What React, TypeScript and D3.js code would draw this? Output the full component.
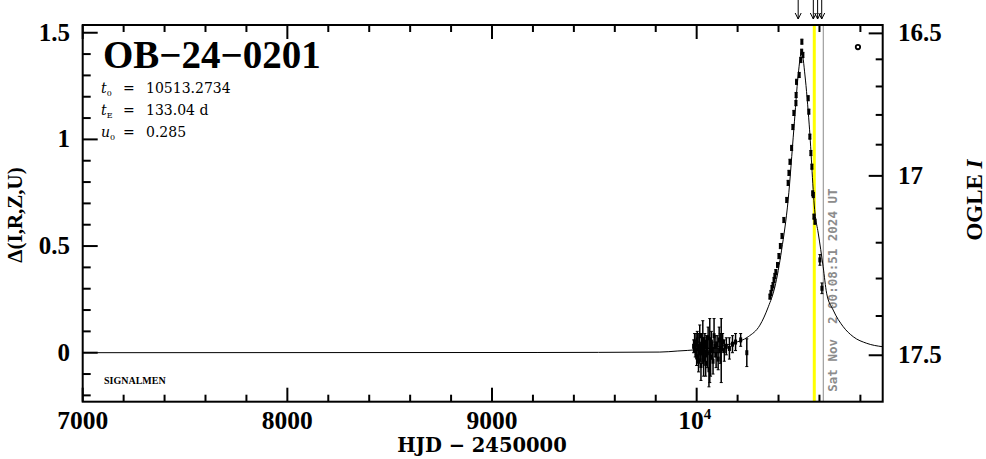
import React from 'react';
import * as d3 from 'd3';

const W = 986;
const H = 459;

// axis calibration (data units)
const xDomain = [7000, 10909];
const yDomain = [-0.2297, 1.5363];

const xMajorTicks = [7000, 8000, 9000, 10000];
const xTickLabels = ['7000', '8000', '9000', '10^4'];
const yMajorTicks = [0, 0.5, 1, 1.5];
const yTickLabels = ['0', '0.5', '1', '1.5'];
const magMajorTicks = [16.5, 17, 17.5];
const magTickLabels = ['16.5', '17', '17.5'];
const magMinorTicks = [16.6, 16.7, 16.8, 16.9, 17.1, 17.2, 17.3, 17.4];

// model curve
const modelT = [7000, 9220, 9820, 9908, 10000, 10100, 10180, 10252, 10309, 10350, 10382, 10415, 10447, 10475, 10496, 10513, 10529, 10550, 10578, 10594, 10618, 10635, 10667, 10716, 10765, 10831, 10909];
const modelD = [0, 0.001, 0.003, 0.008, 0.014, 0.027, 0.045, 0.075, 0.129, 0.215, 0.308, 0.481, 0.716, 1.05, 1.302, 1.411, 1.302, 1.068, 0.655, 0.561, 0.403, 0.279, 0.2, 0.122, 0.075, 0.044, 0.028];

// baseline season points
const baseT = [9985, 9990, 9993, 9997, 10000, 10003, 10006, 10009, 10012, 10015, 10018, 10021, 10024, 10027, 10030, 10034, 10037, 10040, 10044, 10048, 10052, 10056, 10060, 10064, 10068, 10072, 10076, 10080, 10085, 10090, 10095, 10100, 10105, 10110, 10115, 10120, 10127, 10135, 10145, 10160, 10175, 10190, 10215, 10245];
const baseD = [0.03, 0.05, 0.01, 0.04, -0.02, 0.06, 0.02, -0.04, 0.03, 0.08, 0.0, -0.06, 0.04, 0.01, 0.06, -0.03, 0.02, 0.05, -0.05, 0.03, 0.0, 0.07, -0.08, 0.01, -0.02, 0.05, 0.01, -0.04, 0.08, 0.03, -0.01, 0.04, -0.03, 0.06, 0.02, 0.01, 0.05, 0.01, 0.03, 0.02, 0.04, 0.05, 0.06, 0.0];
const baseE = [0.03, 0.04, 0.03, 0.05, 0.04, 0.04, 0.03, 0.05, 0.06, 0.05, 0.04, 0.07, 0.05, 0.06, 0.09, 0.08, 0.05, 0.04, 0.06, 0.05, 0.07, 0.05, 0.08, 0.15, 0.09, 0.05, 0.04, 0.06, 0.08, 0.05, 0.06, 0.04, 0.05, 0.06, 0.07, 0.15, 0.04, 0.05, 0.04, 0.05, 0.04, 0.04, 0.03, 0.065];

// event points
const evT = [10358, 10363, 10368, 10373, 10378, 10382, 10387, 10395, 10402, 10409, 10417, 10426, 10440, 10447, 10451, 10456, 10464, 10470, 10475, 10485, 10486, 10488, 10501, 10509, 10513, 10514, 10519, 10545, 10548, 10553, 10558, 10563, 10567, 10570, 10573, 10578, 10602, 10612];
const evD = [0.263, 0.28, 0.303, 0.317, 0.341, 0.36, 0.378, 0.411, 0.453, 0.5, 0.547, 0.622, 0.716, 0.796, 0.843, 0.895, 0.96, 1.058, 1.124, 1.17, 1.208, 1.27, 1.302, 1.372, 1.411, 1.458, 1.396, 1.193, 1.13, 1.013, 0.936, 0.872, 0.747, 0.739, 0.638, 0.614, 0.435, 0.302];
const evE = [0.012, 0.012, 0.012, 0.012, 0.012, 0.012, 0.012, 0.012, 0.012, 0.012, 0.012, 0.012, 0.012, 0.012, 0.012, 0.012, 0.012, 0.012, 0.012, 0.012, 0.012, 0.012, 0.012, 0.012, 0.012, 0.012, 0.012, 0.012, 0.012, 0.012, 0.012, 0.012, 0.012, 0.012, 0.012, 0.012, 0.025, 0.025];

// other dataset point (open circle)
const extraT = [10788];
const extraD = [1.433];

const arrowT = [10496, 10570, 10591, 10611];
const nowT = [10574.7];
const dateT = [10618.6];
const dateLabel = 'Sat Nov  2 00:08:51 2024 UT';

const eventName = 'OB\u221224\u22120201';
const paramNames = ['t', 't', 'u'];
const paramSubs = ['0', 'E', '0'];
const paramValues = ['10513.2734', '133.04 d', '0.285'];

export default function App() {
  const L = 82.7, R = 882.7, T = 25, B = 401.7;
  const x = d3.scaleLinear().domain(xDomain).range([L, R]);
  const y = d3.scaleLinear().domain(yDomain).range([B, T]);
  // magnitude axis: linear in 10^(0.2 (m-16.5)) mapped onto delta
  const magU = (m: number) => Math.pow(10, 0.2 * (m - 16.5));
  const magToDelta = d3.scaleLinear().domain([magU(16.5), magU(17.5)]).range([1.497, -0.012]);
  const yMag = (m: number) => y(magToDelta(magU(m)));

  const line = d3.line<[number, number]>().x(d => x(d[0])).y(d => y(d[1])).curve(d3.curveMonotoneX);
  const modelPath = line(modelT.map((t, i) => [t, modelD[i]]) as [number, number][]) || '';

  const xTicksAll = d3.range(7000, 10901, 200);
  const yTicksAll = d3.range(-2, 16).map(v => v / 10);

  const numFont = 'Liberation Serif, serif';
  const ff = 'DejaVu Serif, serif';

  const pts = (ts: number[], ds: number[], es: number[], key: string) =>
    ts.map((t, i) => {
      const cx = x(t), cy = y(ds[i]);
      const y1 = y(ds[i] + es[i]), y2 = y(ds[i] - es[i]);
      return (
        <g key={key + i}>
          <line x1={cx} x2={cx} y1={y1} y2={y2} stroke="#000" strokeWidth={1.5} />
          <line x1={cx - 1.5} x2={cx + 1.5} y1={y1} y2={y1} stroke="#000" strokeWidth={1} />
          <line x1={cx - 1.5} x2={cx + 1.5} y1={y2} y2={y2} stroke="#000" strokeWidth={1} />
          <rect x={cx - 1.5} y={cy - 2.5} width={3} height={5} fill="#000" />
        </g>
      );
    });

  return (
    <svg width={W} height={H} style={{ position: 'absolute', left: 0, top: 0, background: '#fff' }}>
      <rect x={0} y={0} width={W} height={H} fill="#fff" />
      {/* vertical markers */}
      {nowT.map((t, i) => (
        <line key={'now' + i} x1={x(t)} x2={x(t)} y1={T} y2={B} stroke="#ffff00" strokeWidth={3} />
      ))}
      {dateT.map((t, i) => (
        <g key={'date' + i}>
          <line x1={x(t)} x2={x(t)} y1={T} y2={B} stroke="#8c8c8c" strokeWidth={1} />
          <text transform={`translate(${x(t) + 14},${B - 10}) rotate(-90)`} fontFamily="DejaVu Sans Mono, monospace" fontWeight="bold" fontSize={12.5} fill="#8c8c8c" xmlSpace="preserve" style={{ whiteSpace: 'pre' }}>{dateLabel}</text>
        </g>
      ))}
      {/* model */}
      <path d={modelPath} fill="none" stroke="#000" strokeWidth={1} />
      {/* data */}
      {pts(baseT, baseD, baseE, 'b')}
      {pts(evT, evD, evE, 'e')}
      {extraT.map((t, i) => (
        <circle key={'x' + i} cx={x(t)} cy={y(extraD[i])} r={2.2} fill="none" stroke="#000" strokeWidth={1.8} />
      ))}
      {/* frame */}
      <rect x={L} y={T} width={R - L} height={B - T} fill="none" stroke="#000" strokeWidth={2} />
      {/* x ticks */}
      {xTicksAll.map(t => {
        const major = t % 1000 === 0;
        const len = major ? 14 : 7;
        return (
          <g key={'xt' + t}>
            <line x1={x(t)} x2={x(t)} y1={B} y2={B - len} stroke="#000" strokeWidth={2} />
            <line x1={x(t)} x2={x(t)} y1={T} y2={T + len} stroke="#000" strokeWidth={2} />
          </g>
        );
      })}
      {xMajorTicks.map((t, i) => {
        const lab = xTickLabels[i];
        if (lab.includes('^')) {
          const [base, exp] = lab.split('^');
          return (
            <text key={'xl' + i} x={x(t) - 2} y={429} textAnchor="middle" fontFamily={numFont} fontWeight="bold" fontSize={25.5}>
              {base}<tspan fontSize={15} dy={-10}>{exp}</tspan>
            </text>
          );
        }
        return (
          <text key={'xl' + i} x={x(t)} y={429} textAnchor="middle" fontFamily={numFont} fontWeight="bold" fontSize={25.5}>{lab}</text>
        );
      })}
      {/* y ticks */}
      {yTicksAll.map(v => {
        const major = Math.abs(v * 2 - Math.round(v * 2)) < 1e-6;
        const len = major ? 15 : 8;
        return <line key={'yt' + v} x1={L} x2={L + len} y1={y(v)} y2={y(v)} stroke="#000" strokeWidth={2} />;
      })}
      {yMajorTicks.map((v, i) => (
        <text key={'yl' + i} x={70} y={y(v) + 8} textAnchor="end" fontFamily={numFont} fontWeight="bold" fontSize={25}>{yTickLabels[i]}</text>
      ))}
      {/* mag ticks */}
      {magMajorTicks.map((m, i) => (
        <g key={'mt' + i}>
          <line x1={R} x2={R - 14} y1={yMag(m)} y2={yMag(m)} stroke="#000" strokeWidth={2} />
          <text x={898} y={yMag(m) + 8} fontFamily={numFont} fontWeight="bold" fontSize={25}>{magTickLabels[i]}</text>
        </g>
      ))}
      {magMinorTicks.map((m, i) => (
        <line key={'mm' + i} x1={R} x2={R - 7} y1={yMag(m)} y2={yMag(m)} stroke="#000" strokeWidth={2} />
      ))}
      {/* axis titles */}
      <text x={482} y={452} textAnchor="middle" fontFamily={ff} fontWeight="bold" fontSize={19.5}>HJD {'\u2212'} 2450000</text>
      <text transform="translate(22,215) rotate(-90)" textAnchor="middle" fontFamily={numFont} fontWeight="bold" fontSize={21}>{'\u0394(I,R,Z,U)'}</text>
      <text transform="translate(982,200) rotate(-90)" textAnchor="middle" fontFamily={numFont} fontWeight="bold" fontSize={23}>OGLE <tspan fontStyle="italic">I</tspan></text>
      {/* arrows */}
      {arrowT.map((t, i) => (
        <g key={'ar' + i} stroke="#000" strokeWidth={1} fill="none">
          <line x1={x(t)} x2={x(t)} y1={0} y2={19} />
          <path d={`M${x(t) - 3},${13} L${x(t)},${19} L${x(t) + 3},${13}`} />
        </g>
      ))}
      {/* labels */}
      <text x={103} y={68} fontFamily={numFont} fontWeight="bold" fontSize={39}>{eventName}</text>
      {paramNames.map((n, i) => (
        <g key={'p' + i} fontFamily={ff} fontSize={14}>
          <text x={101} y={93 + i * 22}>
            <tspan fontStyle="italic">{n}</tspan>
            <tspan fontSize={8} dy={3}>{paramSubs[i]}</tspan>
          </text>
          <text x={123} y={93 + i * 22}>=</text>
          <text x={146} y={93 + i * 22}>{paramValues[i]}</text>
        </g>
      ))}
      <text x={104} y={383.5} fontFamily={numFont} fontWeight="bold" fontSize={10}>SIGNALMEN</text>
    </svg>
  );
}
